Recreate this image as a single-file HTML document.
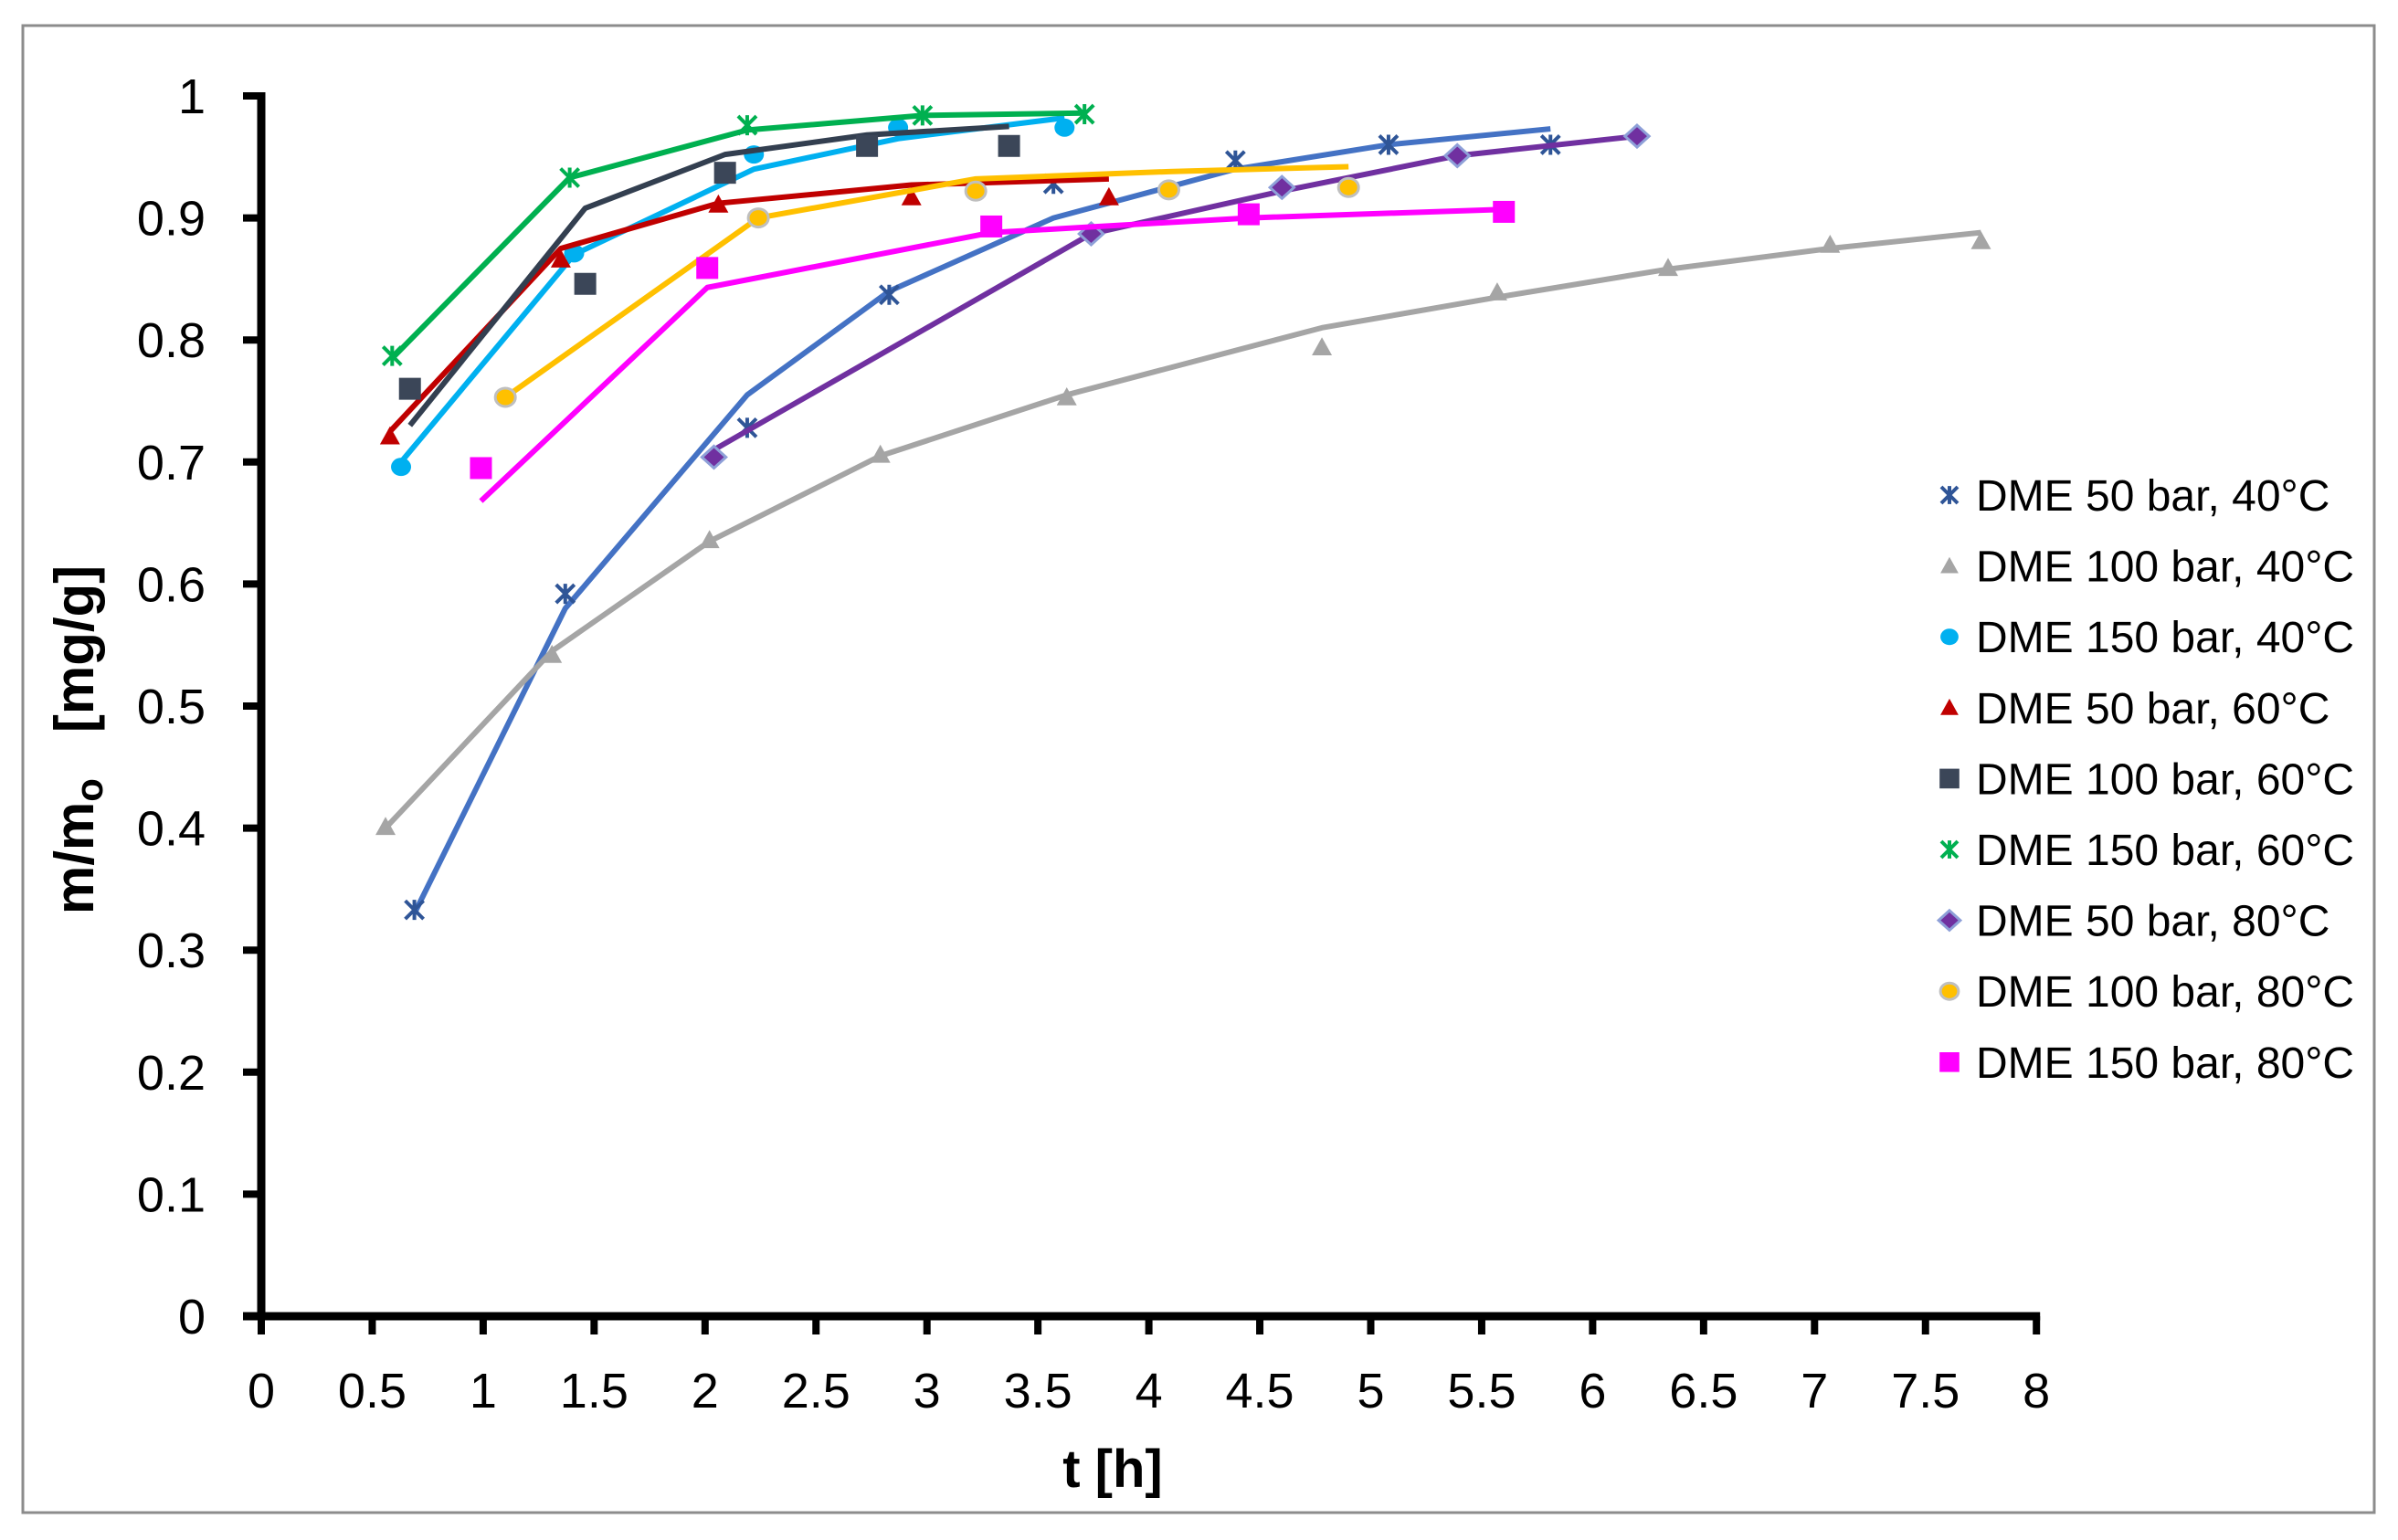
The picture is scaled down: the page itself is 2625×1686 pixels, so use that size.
<!DOCTYPE html>
<html><head><meta charset="utf-8"><style>
html,body{margin:0;padding:0;background:#fff}
svg{display:block}
text{font-family:"Liberation Sans",sans-serif;fill:#000}
</style></head><body>
<svg id="chart" width="2625" height="1686" viewBox="0 0 2625 1686" xmlns="http://www.w3.org/2000/svg">
<rect x="25" y="28" width="2574" height="1628" fill="#fff" stroke="#8c8c8c" stroke-width="3"/>
<g id="grid"></g>
<g id="series"></g>
<g id="axes"></g>
<g id="legend"></g>
<text x="1218" y="1628" font-size="58" font-weight="bold" text-anchor="middle">t [h]</text>
<text transform="translate(102,810) rotate(-90)" font-size="60" font-weight="bold" text-anchor="middle">m/m<tspan font-size="42" dy="10">o</tspan><tspan dy="-10" xml:space="preserve">   [mg/g]</tspan></text>
</svg>
<script>
const xTicks=[0,0.5,1,1.5,2,2.5,3,3.5,4,4.5,5,5.5,6,6.5,7,7.5,8];
const yTicks=[0,0.1,0.2,0.3,0.4,0.5,0.6,0.7,0.8,0.9,1];
const seriesNames=["DME 50 bar, 40°C","DME 100 bar, 40°C","DME 150 bar, 40°C","DME 50 bar, 60°C","DME 100 bar, 60°C","DME 150 bar, 60°C","DME 50 bar, 80°C","DME 100 bar, 80°C","DME 150 bar, 80°C"];
const t1=[0.69,1.37,2.19,2.83,3.57,4.39,5.08,5.81];
const m1=[0.333,0.592,0.728,0.837,0.928,0.947,0.960,0.960];
const f1=[0.33,0.58,0.755,0.84,0.90,0.94,0.96,0.973];
const t2=[0.56,1.31,2.02,2.79,3.63,4.78,5.57,6.34,7.07,7.75];
const m2=[0.401,0.542,0.636,0.706,0.753,0.794,0.839,0.859,0.878,0.881];
const f2=[0.40,0.545,0.635,0.705,0.755,0.81,0.835,0.858,0.875,0.888];
const t3=[0.63,1.41,2.22,2.87,3.62];
const m3=[0.696,0.871,0.952,0.974,0.974];
const f3=[0.70,0.87,0.94,0.965,0.982];
const t4=[0.58,1.35,2.06,2.93,3.82];
const m4=[0.721,0.866,0.911,0.917,0.917];
const f4=[0.725,0.875,0.912,0.927,0.932];
const t5=[0.67,1.46,2.09,2.73,3.37];
const m5=[0.760,0.846,0.937,0.959,0.959];
const f5=[0.73,0.908,0.952,0.968,0.975];
const t6=[0.59,1.39,2.19,2.98,3.71];
const m6=[0.787,0.933,0.976,0.984,0.985];
const f6=[0.785,0.933,0.972,0.984,0.986];
const t7=[2.04,3.74,4.60,5.39,6.20];
const m7=[0.704,0.887,0.925,0.951,0.967];
const f7=[0.71,0.887,0.922,0.951,0.967];
const t8=[1.10,2.24,3.22,4.09,4.90];
const m8=[0.753,0.900,0.922,0.923,0.925];
const f8=[0.753,0.90,0.932,0.938,0.942];
const t9=[0.99,2.01,3.29,4.45,5.60];
const m9=[0.695,0.859,0.893,0.903,0.905];
const f9=[0.668,0.843,0.888,0.90,0.907];

const NS="http://www.w3.org/2000/svg";
const X0=286,XU=242.9,Y0=1441,YU=1336;
function xs(v){return X0+v*XU;}
function ys(v){return Y0-v*YU;}
function mk(tag,attrs,parent){const e=document.createElementNS(NS,tag);for(const k in attrs)e.setAttribute(k,attrs[k]);parent.appendChild(e);return e;}

const styles=[
 {line:"#4472C4",marker:"star",fill:"#2F5597",stroke:"#2F5597"},
 {line:"#A5A5A5",marker:"tri",fill:"#A5A5A5",stroke:"none"},
 {line:"#00B0F0",marker:"circle",fill:"#00B0F0",stroke:"none"},
 {line:"#C00000",marker:"tri",fill:"#C00000",stroke:"none"},
 {line:"#333F50",marker:"square",fill:"#3B4658",stroke:"none"},
 {line:"#00B050",marker:"star",fill:"#00B050",stroke:"#00B050"},
 {line:"#7030A0",marker:"diamond",fill:"#7030A0",stroke:"#8EA0D8"},
 {line:"#FFC000",marker:"circle",fill:"#FFC000",stroke:"#BFBFBF"},
 {line:"#FF00FF",marker:"square",fill:"#FF00FF",stroke:"none"}
];
const T=[t1,t2,t3,t4,t5,t6,t7,t8,t9],M=[m1,m2,m3,m4,m5,m6,m7,m8,m9],F=[f1,f2,f3,f4,f5,f6,f7,f8,f9];

function marker(type,cx,cy,st,parent,s){
 s=s||1;let e;
 if(type==="star"){
  const r=10*s;
  e=mk("path",{d:`M${cx-r},${cy-r}L${cx+r},${cy+r}M${cx-r},${cy+r}L${cx+r},${cy-r}M${cx},${cy-r*1.1}L${cx},${cy+r*1.1}`,stroke:st.stroke,"stroke-width":4,fill:"none"},parent);
 } else if(type==="tri"){
  const r=11*s;
  e=mk("polygon",{points:`${cx},${cy-r} ${cx+r},${cy+r*0.8} ${cx-r},${cy+r*0.8}`,fill:st.fill},parent);
 } else if(type==="circle"){
  e=mk("ellipse",{cx:cx,cy:cy,rx:11*s,ry:10*s,fill:st.fill,stroke:st.stroke,"stroke-width":st.stroke==="none"?0:3},parent);
 } else if(type==="square"){
  const r=12*s;
  e=mk("rect",{x:cx-r,y:cy-r,width:2*r,height:2*r,fill:st.fill},parent);
 } else {
  const r=12*s;
  e=mk("polygon",{points:`${cx},${cy-r} ${cx+r*1.1},${cy} ${cx},${cy+r} ${cx-r*1.1},${cy}`,fill:st.fill,stroke:st.stroke,"stroke-width":3},parent);
 }
 return e;
}

const axes=document.getElementById("axes");
const ser=document.getElementById("series");
const leg=document.getElementById("legend");

const ya=mk("line",{x1:X0,y1:ys(1)-4,x2:X0,y2:Y0+4,stroke:"#000","stroke-width":9},axes);


const xa=mk("line",{x1:X0-20,y1:Y0,x2:xs(8)+4,y2:Y0,stroke:"#000","stroke-width":9},axes);


yTicks.forEach(v=>{
 const tk=mk("line",{x1:X0-20,y1:ys(v),x2:X0,y2:ys(v),stroke:"#000","stroke-width":8},axes);
 
 
 const tx=mk("text",{x:225,y:ys(v)+19,"font-size":54,"text-anchor":"end"},axes);
 tx.textContent=String(v);
 
 
});
xTicks.forEach(v=>{
 const tk=mk("line",{x1:xs(v),y1:Y0,x2:xs(v),y2:Y0+20,stroke:"#000","stroke-width":8},axes);
 
 
 const tx=mk("text",{x:xs(v),y:1541,"font-size":54,"text-anchor":"middle"},axes);
 tx.textContent=String(v);
 
 
});

T.forEach((t,i)=>{
 const st=styles[i];
 const g=mk("g",{},ser);
 
 
 const pts=t.map((x,j)=>xs(x)+","+ys(F[i][j])).join(" ");
 const pl=mk("polyline",{points:pts,fill:"none",stroke:st.line,"stroke-width":6,"stroke-linejoin":"round"},g);
 
 
 t.forEach((x,j)=>{
  const m=marker(st.marker,xs(x),ys(M[i][j]),st,g);
  
  
 });
});

seriesNames.forEach((n,i)=>{
 const cy=542+i*77.6;
 const g=mk("g",{},leg);
 
 
 const m=marker(styles[i].marker,2134,cy,styles[i],g,0.9);
 
 
 const tx=mk("text",{x:2163,y:cy+17,"font-size":48},g);
 tx.textContent=n;
 
 
});
</script>
</body></html>
